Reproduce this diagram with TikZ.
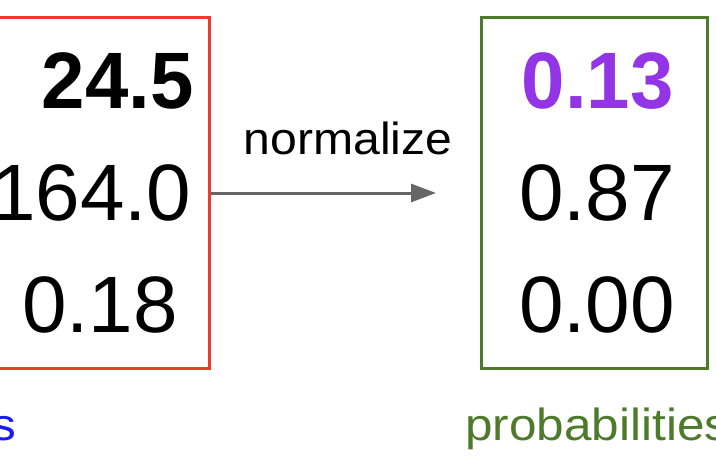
\documentclass[tikz,border=0pt]{standalone}
\usepackage{fontspec}
\setmainfont{Liberation Sans}
\usetikzlibrary{arrows.meta}
\definecolor{boxred}{HTML}{EA3B2E}
\definecolor{boxgreen}{HTML}{4E7A2C}
\definecolor{numpurple}{HTML}{9334E6}
\definecolor{lblblue}{HTML}{1A1AFF}
\definecolor{arrgray}{HTML}{666666}
\begin{document}
\begin{tikzpicture}[x=1pt,y=-1pt,
  num/.style={inner sep=0pt, font=\fontsize{80}{80}\selectfont},
  numb/.style={inner sep=0pt, xscale=0.975, font=\fontsize{80}{80}\selectfont\bfseries},
  box/.style={line width=3pt, inner sep=0pt},
  lbl/.style={inner sep=0pt, anchor=base west, xscale=1.1, font=\fontsize{45}{45}\selectfont},
  lbln/.style={inner sep=0pt, anchor=base west, xscale=1.07, font=\fontsize{45}{45}\selectfont},
  arr/.style={draw=arrgray, line width=3pt, -{Triangle[length=25pt,width=18pt]}}]
\useasboundingbox (0,0) rectangle (716,474);
\fill[white] (0,0) rectangle (716,474);
% boxes
\node[box, draw=boxred, minimum width=239.5pt, minimum height=350.5pt] (L) at (89.75,192.75) {};
\node[box, draw=boxgreen, minimum width=226pt, minimum height=351pt] (R) at (594,193) {};
% arrow
\coordinate (tip) at (436,193);
\draw[arr] (L.east |- tip) -- (tip);
\node[lbln] (norm) at (243.5,154) {normalize};
% left numbers
\node[numb, anchor=base west] (l1) at (41.5,108) {24.5};
\node[num, anchor=base east] (l2) at (191.5,220) {164.0};
\node[num, anchor=base west] (l3) at (22,332) {0.18};
% right numbers
\node[numb, anchor=base west, text=numpurple] (r1) at (521.5,108) {0.13};
\node[num, anchor=base west] (r2) at (519,220) {0.87};
\node[num, anchor=base west] (r3) at (519,332) {0.00};
% labels
\node[lbl, anchor=base east, text=lblblue] (ls) at (16.5,440) {s};
\node[lbl, text=boxgreen] (prob) at (465,440) {probabilities};
\end{tikzpicture}
\end{document}
